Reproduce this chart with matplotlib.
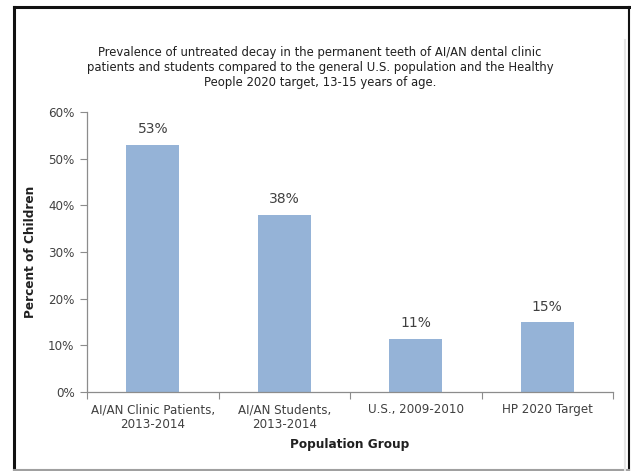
import matplotlib
matplotlib.use("Agg")
import matplotlib.pyplot as plt
from matplotlib.lines import Line2D

# Untreated decay, 13-15 year olds
groups = ["AI/AN Clinic Patients,\n2013-2014", "AI/AN Students,\n2013-2014",
          "U.S., 2009-2010", "HP 2020 Target"]
percents = [53, 38, 11.4, 15]
yticks = [0, 10, 20, 30, 40, 50, 60]

title = ("Prevalence of untreated decay in the permanent teeth of AI/AN dental clinic\n"
         "patients and students compared to the general U.S. population and the Healthy\n"
         "People 2020 target, 13-15 years of age.")

bar_color = "#95B3D7"
text_color = "#404040"
axis_color = "#8c8c8c"

plt.rcParams['font.family'] = ['DejaVu Sans']

fig = plt.figure(figsize=(6.31, 4.71), dpi=100)
ax = fig.add_axes([0.1379, 0.1677, 0.8336, 0.5945])

x = list(range(len(groups)))
bars = ax.bar(x, percents, width=0.4, color=bar_color, zorder=2)

# value labels above the bars
for b, v in zip(bars, percents):
    ax.text(b.get_x() + b.get_width() / 2, v + 1.8, f"{v:.0f}%",
            ha="center", va="bottom", fontsize=10, color=text_color)

ax.set_xlim(-0.5, len(groups) - 0.5)
ax.set_ylim(0, 60)
ax.set_yticks(yticks)
ax.set_yticklabels([f"{t}%" for t in yticks])

# category ticks sit between the groups, labels at the bar centres
ax.set_xticks([i - 0.5 for i in range(len(groups) + 1)])
ax.set_xticklabels([])
ax.set_xticks(x, minor=True)
ax.set_xticklabels(groups, minor=True, fontsize=8.6, color=text_color,
                   linespacing=1.2)
ax.tick_params(axis="x", which="minor", length=0, pad=8)
ax.tick_params(axis="x", which="major", length=5, color=axis_color, direction="out")
ax.tick_params(axis="y", length=5, color=axis_color, labelsize=8.6,
               labelcolor=text_color, pad=4)

for side in ["top", "right"]:
    ax.spines[side].set_visible(False)
for side in ["left", "bottom"]:
    ax.spines[side].set_color(axis_color)
    ax.spines[side].set_linewidth(0.9)

ax.set_ylabel("Percent of Children", fontsize=8.7, fontweight="bold",
              color="#202020", labelpad=8)
ax.set_xlabel("Population Group", fontsize=8.7, fontweight="bold",
              color="#202020", labelpad=5)

fig.text(0.507, 0.857, title, ha="center", va="center", fontsize=8.4,
         color="#202020", linespacing=1.22)

# outer frame around the chart
W, H = 631, 471
fig.lines.append(Line2D([14 / W, 14 / W], [1 / H, 1 - 7 / H], transform=fig.transFigure,
                        color="#111111", linewidth=2.2))
fig.lines.append(Line2D([14 / W, 629 / W], [1 - 7 / H, 1 - 7 / H], transform=fig.transFigure,
                        color="#111111", linewidth=2.2))
fig.lines.append(Line2D([629 / W, 629 / W], [1 / H, 1 - 7 / H], transform=fig.transFigure,
                        color="#111111", linewidth=1.5))
fig.lines.append(Line2D([14 / W, 629 / W], [1.5 / H, 1.5 / H], transform=fig.transFigure,
                        color="#a0a0a0", linewidth=1.5))
fig.lines.append(Line2D([625 / W, 625 / W], [1 / H, 1 - 40 / H], transform=fig.transFigure,
                        color="#e6e6e6", linewidth=1.5))

fig.savefig("out.png", dpi=100)
